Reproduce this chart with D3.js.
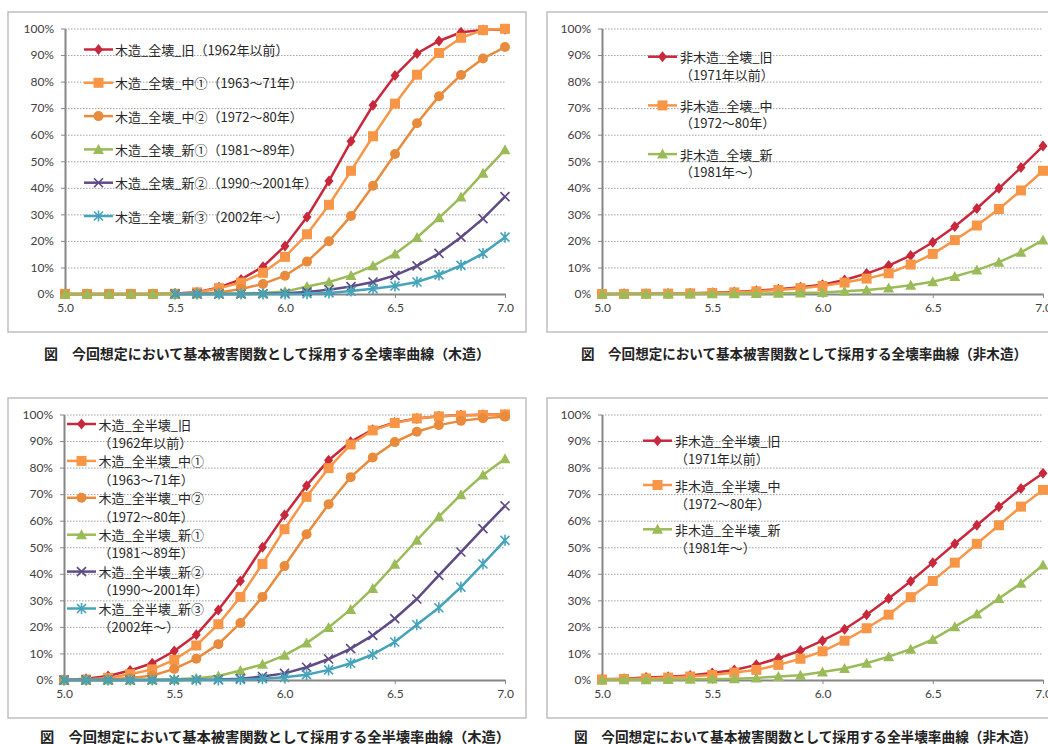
<!DOCTYPE html>
<html>
<head>
<meta charset="utf-8">
<script src="https://cdn.jsdelivr.net/npm/d3@7"></script>
<style>
  body { margin: 0; background: #fff; }
  svg { display: block; }
  .tick text { font-family: Lato, "Open Sans", sans-serif; font-size: 12px; fill: #404040; }
  .legend text { font-family: "Noto Sans CJK JP", sans-serif; font-size: 13px; fill: #262626; }
  .caption { font-family: "Noto Sans CJK JP", sans-serif; font-size: 14px; font-weight: bold; fill: #222; }
</style>
</head>
<body>
<div id="chart"></div>
<script>
// seismic intensity (x axis)
const MAGNITUDES = [5.0, 5.1, 5.2, 5.3, 5.4, 5.5, 5.6, 5.7, 5.8, 5.9, 6.0,
  6.1, 6.2, 6.3, 6.4, 6.5, 6.6, 6.7, 6.8, 6.9, 7.0];
const X_TICKS = [5.0, 5.5, 6.0, 6.5, 7.0];
const Y_TICKS = [0, 10, 20, 30, 40, 50, 60, 70, 80, 90, 100];

// 木造 全壊 (%)
const woodOld = [0, 0, 0, 0, 0, 0.2, 0.7, 2.5, 5.5, 10.3, 18.1, 29, 42.6, 57.5, 71.1, 82.3, 90.6, 95.3, 98.6, 99.4, 99.7];
const woodMid1 = [0, 0, 0, 0, 0, 0.1, 0.6, 2.2, 4.3, 8, 14, 22.5, 33.6, 46.4, 59.4, 71.7, 82.6, 90.8, 96.5, 99.4, 99.9];
const woodMid2 = [0, 0, 0, 0, 0, 0, 0.2, 0.6, 1.9, 3.8, 6.9, 12.2, 19.9, 29.4, 40.8, 52.7, 64.3, 74.5, 82.5, 88.7, 93];
const woodNew1 = [0, 0, 0, 0, 0, 0, 0, 0.1, 0.2, 0.4, 0.9, 2.8, 4.5, 7, 10.6, 15.1, 21.3, 28.7, 36.5, 45.5, 54.3];
const woodNew2 = [null, null, null, null, null, 0, 0, 0, 0, 0.1, 0.3, 0.8, 1.6, 2.8, 4.5, 7, 10.6, 15.3, 21.4, 28.4, 36.7];
const woodNew3 = [null, null, null, null, null, 0, 0, 0, 0, 0, 0, 0.1, 0.4, 1.1, 2, 3, 4.5, 7.2, 10.8, 15.3, 21.4];

// 非木造 全壊 (%)
const nonWoodOld = [0, 0.05, 0.1, 0.2, 0.3, 0.5, 0.75, 1.25, 1.75, 2.5, 3.5, 5.3, 7.7, 10.7, 14.5, 19.5, 25.4, 32.2, 39.8, 47.6, 55.7];
const nonWoodMid = [0, 0, 0.1, 0.15, 0.25, 0.4, 0.6, 1, 1.5, 2.2, 3, 4.3, 5.8, 7.8, 11.1, 15.1, 20.3, 25.8, 32, 39, 46.4];
const nonWoodNew = [0, 0, 0, 0, 0, 0.05, 0.1, 0.2, 0.3, 0.4, 0.6, 1, 1.5, 2.3, 3.3, 4.6, 6.6, 9, 12, 15.7, 20.3];

// 木造 全半壊 (%)
const woodHalfOld = [0, 0.5, 1.5, 3.6, 6.3, 10.9, 17, 26.4, 37.3, 50, 62.1, 73.2, 82.8, 89.7, 94.3, 97, 98.5, 99.3, 99.7, 99.9, 100];
const woodHalfMid1 = [0, 0.2, 0.8, 2.2, 4, 7.6, 13, 21, 31.3, 43.7, 56.8, 69, 79.8, 88.7, 94, 96.8, 98.5, 99.3, 99.6, 99.8, 100];
const woodHalfMid2 = [0, 0.1, 0.3, 0.8, 1.6, 4.2, 8, 13.5, 21.5, 31.3, 42.9, 54.9, 66.2, 76.4, 83.8, 89.6, 93.5, 96, 97.6, 98.6, 99.2];
const woodHalfNew1 = [0, 0, 0, 0, 0.1, 0.3, 0.7, 1.5, 3.6, 5.9, 9.3, 13.9, 19.8, 26.6, 34.5, 43.6, 52.6, 61.5, 69.8, 77.2, 83.3];
const woodHalfNew2 = [0, 0, 0, 0, 0, 0, 0.1, 0.2, 0.5, 1.3, 2.5, 4.8, 7.9, 11.8, 16.8, 23.1, 30.5, 39.4, 48.2, 57, 65.6];
const woodHalfNew3 = [0, 0, 0, 0, 0, 0, 0, 0, 0.2, 0.5, 1, 2, 3.8, 6.3, 9.6, 14.3, 20.8, 27.2, 35, 43.7, 52.6];

// 非木造 全半壊 (%)
const nonWoodHalfOld = [0.3, 0.5, 0.9, 1.2, 1.7, 2.6, 3.8, 5.7, 8.2, 11.1, 14.8, 19.1, 24.6, 30.7, 37.2, 44.2, 51.3, 58.3, 65.3, 72.1, 77.9];
const nonWoodHalfMid = [0.2, 0.4, 0.6, 0.9, 1.3, 1.9, 2.8, 3.8, 5.7, 8, 10.8, 14.8, 19.5, 24.6, 31.2, 37.3, 44.2, 51.3, 58.3, 65.3, 71.6];
const nonWoodHalfNew = [0, 0.1, 0.1, 0.2, 0.3, 0.4, 0.5, 0.8, 1.3, 1.8, 3, 4.3, 6.3, 8.8, 11.6, 15.3, 20.1, 24.9, 30.7, 36.4, 43.3];

// legend labels
const woodLabels = ["木造_全壊_旧（1962年以前）", "木造_全壊_中①（1963～71年）", "木造_全壊_中②（1972～80年）",
  "木造_全壊_新①（1981～89年）", "木造_全壊_新②（1990～2001年）", "木造_全壊_新③（2002年～）"];
const nonWoodLabels = [["非木造_全壊_旧", "（1971年以前）"], ["非木造_全壊_中", "（1972～80年）"], ["非木造_全壊_新", "（1981年～）"]];
const woodHalfLabels = [["木造_全半壊_旧", "（1962年以前）"], ["木造_全半壊_中①", "（1963～71年）"], ["木造_全半壊_中②", "（1972～80年）"],
  ["木造_全半壊_新①", "（1981～89年）"], ["木造_全半壊_新②", "（1990～2001年）"], ["木造_全半壊_新③", "（2002年～）"]];
const nonWoodHalfLabels = [["非木造_全半壊_旧", "（1971年以前）"], ["非木造_全半壊_中", "（1972～80年）"], ["非木造_全半壊_新", "（1981年～）"]];

const captions = [
  "図　今回想定において基本被害関数として採用する全壊率曲線（木造）",
  "図　今回想定において基本被害関数として採用する全壊率曲線（非木造）",
  "図　今回想定において基本被害関数として採用する全半壊率曲線（木造）",
  "図　今回想定において基本被害関数として採用する全半壊率曲線（非木造）",
];

// series styles: colour + marker
const red = "#C8283C", orange = "#F79646", orange2 = "#E98B3C", green = "#9BBB59", purple = "#5F4B85", teal = "#45A3BA";
const woodStyles = [
  { color: red, marker: "diamond" },
  { color: orange, marker: "square" },
  { color: orange2, marker: "circle" },
  { color: green, marker: "triangle" },
  { color: purple, marker: "x" },
  { color: teal, marker: "star" },
];
const nonWoodStyles = [
  { color: red, marker: "diamond" },
  { color: orange, marker: "square" },
  { color: green, marker: "triangle" },
];

const svg = d3.select("#chart").append("svg").attr("width", 1048).attr("height", 744);

const drawMarker = (g, type, color) => {
  switch (type) {
    case "diamond":
      g.append("path").attr("d", "M0,-5.5L4.5,0L0,5.5L-4.5,0Z").attr("fill", color);
      break;
    case "square":
      g.append("rect").attr("x", -5).attr("y", -5).attr("width", 10).attr("height", 10).attr("fill", color);
      break;
    case "circle":
      g.append("circle").attr("r", 5).attr("fill", color);
      break;
    case "triangle":
      g.append("path").attr("d", "M0,-5.5L5.5,4.5L-5.5,4.5Z").attr("fill", color);
      break;
    case "x":
      g.append("path").attr("d", "M-4.5,-4.5L4.5,4.5M-4.5,4.5L4.5,-4.5")
        .attr("stroke", color).attr("stroke-width", 1.6).attr("fill", "none");
      break;
    case "star":
      g.append("path").attr("d", "M-4.5,-4.5L4.5,4.5M-4.5,4.5L4.5,-4.5M0,-5.5L0,5.5")
        .attr("stroke", color).attr("stroke-width", 1.6).attr("fill", "none");
      break;
  }
};

const drawPanel = (cfg) => {
  const panel = svg.append("g");

  panel.append("rect")
    .attr("x", cfg.box[0]).attr("y", cfg.box[1])
    .attr("width", cfg.box[2]).attr("height", cfg.box[3])
    .attr("fill", "#fff").attr("stroke", "#BFBFBF").attr("stroke-width", 1.5);

  const x = d3.scaleLinear().domain([5, 7]).range(cfg.xRange);
  const y = d3.scaleLinear().domain([0, 100]).range(cfg.yRange);

  // dotted gridlines
  panel.append("g")
    .attr("transform", `translate(${cfg.xRange[0]},0)`)
    .call(d3.axisLeft(y).tickValues(Y_TICKS.slice(1)).tickSize(-(cfg.xRange[1] - cfg.xRange[0])).tickFormat(""))
    .call((g) => g.select(".domain").remove())
    .call((g) => g.selectAll("line").attr("stroke", "#9E9E9E").attr("stroke-dasharray", "1.5,1.5"));

  const yAxis = panel.append("g")
    .attr("transform", `translate(${cfg.xRange[0]},0)`)
    .call(d3.axisLeft(y).tickValues(Y_TICKS).tickFormat((d) => d + "%").tickSize(4).tickSizeOuter(0).tickPadding(7));
  const xAxis = panel.append("g")
    .attr("transform", `translate(0,${cfg.yRange[0]})`)
    .call(d3.axisBottom(x).tickValues(X_TICKS).tickFormat(d3.format(".1f")).tickSize(4).tickSizeOuter(0).tickPadding(5));
  [yAxis, xAxis].forEach((a) => {
    a.select(".domain").attr("stroke", "#868686").attr("stroke-width", 2);
    a.selectAll(".tick line").attr("stroke", "#868686");
  });

  const line = d3.line()
    .defined((d) => d[1] !== null)
    .x((d) => x(d[0]))
    .y((d) => y(d[1]));

  cfg.series.forEach((values, i) => {
    const style = cfg.styles[i];
    const pts = MAGNITUDES.map((m, j) => [m, values[j]]);
    panel.append("path")
      .datum(pts)
      .attr("d", line)
      .attr("fill", "none")
      .attr("stroke", style.color)
      .attr("stroke-width", 2.5);
    pts.filter((d) => d[1] !== null).forEach((d) => {
      drawMarker(panel.append("g").attr("transform", `translate(${x(d[0])},${y(d[1])})`), style.marker, style.color);
    });
  });

  // legend
  const legend = panel.append("g").attr("class", "legend");
  cfg.labels.forEach((label, i) => {
    const style = cfg.styles[i];
    const yy = cfg.legend.y0 + i * cfg.legend.step;
    const item = legend.append("g").attr("transform", `translate(0,${yy})`);
    item.append("line")
      .attr("x1", cfg.legend.x0).attr("x2", cfg.legend.x1)
      .attr("stroke", style.color).attr("stroke-width", 2.5);
    drawMarker(item.append("g").attr("transform", `translate(${(cfg.legend.x0 + cfg.legend.x1) / 2},0)`), style.marker, style.color);
    const lines = Array.isArray(label) ? label : [label];
    lines.forEach((t, k) => {
      item.append("text")
        .attr("x", cfg.legend.tx)
        .attr("y", k * cfg.legend.sub)
        .attr("dominant-baseline", "central")
        .text(t);
    });
  });
};

drawPanel({
  box: [8, 12, 518, 320],
  xRange: [65, 505],
  yRange: [294, 28.5],
  series: [woodOld, woodMid1, woodMid2, woodNew1, woodNew2, woodNew3],
  styles: woodStyles,
  labels: woodLabels,
  legend: { x0: 84, x1: 113, tx: 115, y0: 49.5, step: 33.3, sub: 0 },
});

drawPanel({
  box: [547, 12, 520, 320],
  xRange: [602, 1043],
  yRange: [294, 28.5],
  series: [nonWoodOld, nonWoodMid, nonWoodNew],
  styles: nonWoodStyles,
  labels: nonWoodLabels,
  legend: { x0: 648, x1: 677, tx: 680, y0: 56.7, step: 48.7, sub: 17.5 },
});

drawPanel({
  box: [8, 398, 518, 320],
  xRange: [64, 505],
  yRange: [680, 414.5],
  series: [woodHalfOld, woodHalfMid1, woodHalfMid2, woodHalfNew1, woodHalfNew2, woodHalfNew3],
  styles: woodStyles,
  labels: woodHalfLabels,
  legend: { x0: 67, x1: 96, tx: 98.5, y0: 424, step: 36.9, sub: 18.3 },
});

drawPanel({
  box: [547, 398, 520, 320],
  xRange: [602, 1043],
  yRange: [680, 414.5],
  series: [nonWoodHalfOld, nonWoodHalfMid, nonWoodHalfNew],
  styles: nonWoodStyles,
  labels: nonWoodHalfLabels,
  legend: { x0: 643, x1: 672, tx: 675, y0: 440.7, step: 44.3, sub: 18 },
});

// captions under each panel
const captionPos = [
  { x: 44, y: 353, w: 446 },
  { x: 581, y: 353, w: 446 },
  { x: 40, y: 736, w: 470 },
  { x: 574, y: 736, w: 463 },
];
captions.forEach((c, i) => {
  svg.append("text")
    .attr("class", "caption")
    .attr("x", captionPos[i].x)
    .attr("y", captionPos[i].y)
    .attr("dominant-baseline", "central")
    .attr("textLength", captionPos[i].w)
    .attr("lengthAdjust", "spacingAndGlyphs")
    .text(c);
});
</script>
</body>
</html>
